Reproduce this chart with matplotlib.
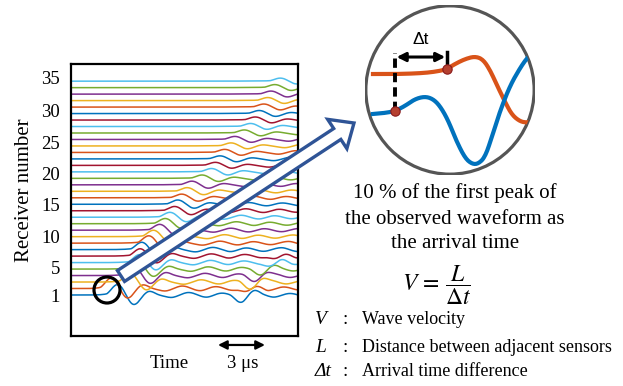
import numpy as np
import matplotlib.pyplot as plt
from matplotlib.patches import Circle, FancyArrow

plt.rcParams['font.family'] = ['Liberation Serif', 'DejaVu Serif']
plt.rcParams['mathtext.fontset'] = 'stix'

# ---- data ----
receivers = np.arange(1, 35)
arrival_us = [2.2, 1.8, 3.0, 3.25, 3.45, 3.6, 3.65, 3.75, 4.2, 4.5,
              4.9, 5.25, 5.55, 5.85, 6.05, 6.3, 6.65, 6.95, 7.6, 8.2,
              8.45, 8.75, 9.05, 9.45, 9.7, 10.3, 10.7, 11.0, 11.25, 11.55,
              11.8, 12.0, 12.25, 12.6]
pulse_amp = [1.7, 1.7, 1.4, 1.4, 1.3, 1.3, 1.2, 1.2, 1.2, 1.05,
             0.95, 0.85, 0.8, 0.7, 0.7, 0.6, 0.6, 0.6, 0.55, 0.55,
             0.5, 0.5, 0.5, 0.5, 0.5, 0.5, 0.5, 0.5, 0.5, 0.5,
             0.5, 0.5, 0.5, 0.5]
coda_amp = [0.5, 0.5, 0.45, 0.45, 0.45, 0.45, 0.45, 0.45, 0.4, 0.4,
            0.4, 0.4, 0.4, 0.4, 0.35, 0.35, 0.35, 0.35, 0.35, 0.35,
            0.35, 0.35, 0.35, 0.35, 0.35, 0.35, 0.35, 0.35, 0.35, 0.35,
            0.35, 0.35, 0.35, 0.35]
late_us = [10.3, 10.5, 10.8, 11.1, 11.5, 12.0, 12.4]
late_amp = [0.9, 0.7, 0.9, 0.7, 0.7, 0.6, 0.6]

step_us = 0.25
pulse_shape = [0, 0.3, 0.75, 1.0, 0.8, 0.2, -0.5, -0.9, -0.8, -0.35, 0.1, 0.35, 0.3, 0.1]
coda_shape = [-0.1, -0.4, -0.7, -0.8, -0.5, 0.0, 0.5, 0.8, 0.7, 0.3,
              -0.2, -0.6, -0.7, -0.4, 0.1, 0.5, 0.6, 0.4, 0.0, -0.4,
              -0.6, -0.5, -0.1, 0.3, 0.6, 0.7, 0.4, -0.1, -0.5, -0.7,
              -0.5, -0.1, 0.3, 0.5, 0.4, 0.1, -0.3, -0.5, -0.4, 0.0,
              0.4, 0.6, 0.5, 0.1, -0.3, -0.5, -0.4, -0.1, 0.2, 0.4]
late_shape = [0, -0.4, -0.9, -1.0, -0.5, 0.2, 0.5, 0.3, 0]

ytick_pos = [0.85, 5.2, 9.95, 14.9, 19.8, 24.6, 29.55, 34.5]
ytick_labels = ['1', '5', '10', '15', '20', '25', '30', '35']

# zoomed view: two neighbouring receivers
inset_t_orange = [0.47, 2.06, 3.53, 4.41, 4.82, 5.29, 5.88, 6.47, 6.94, 7.35,
                  7.76, 8.24, 8.65, 9.12, 9.53, 9.88]
inset_orange = [0.94, 0.94, 1.0, 1.12, 1.24, 1.53, 1.82, 1.98, 1.8, 1.18,
                0.29, -0.71, -1.47, -1.85, -1.92, -1.85]
inset_t_blue = [0.47, 1.18, 1.76, 2.35, 2.94, 3.53, 4.0, 4.41, 4.88, 5.35,
                5.88, 6.29, 6.65, 7.06, 7.47, 7.94, 8.53, 9.12, 9.53, 10.0]
inset_blue = [-1.41, -1.35, -1.24, -0.94, -0.53, -0.38, -0.53, -0.94, -1.76, -2.94,
              -4.0, -4.35, -4.35, -3.95, -2.75, -1.25, 0.25, 1.29, 1.88, 2.35]
pick_t = [1.76, 4.82]
pick_v = [-1.24, 1.24]

colors = ['#0072BD', '#D95319', '#EDB120', '#7E2F8E', '#77AC30', '#4DBEEE', '#A2142F']


def chaikin(x, y, n=3):
    # corner cutting so the polylines draw as smooth curves
    pts = np.column_stack([x, y]).astype(float)
    for _ in range(n):
        q = 0.75*pts[:-1] + 0.25*pts[1:]
        r = 0.25*pts[:-1] + 0.75*pts[1:]
        mid = np.empty((2*len(q), 2))
        mid[0::2] = q
        mid[1::2] = r
        pts = np.vstack([pts[:1], mid, pts[-1:]])
    return pts[:, 0], pts[:, 1]


fig = plt.figure(figsize=(6.23, 3.86), dpi=100)

# ---- main waveform panel ----
ax = fig.add_axes([71/623, 50/386, 227/623, 272/386])
for i, rec in enumerate(receivers):
    vals = np.concatenate([pulse_amp[i]*np.array(pulse_shape),
                           coda_amp[i]*np.array(coda_shape)])
    if i < len(late_us):
        j = int(round((late_us[i] - arrival_us[i]) / step_us))
        vals[j:j+len(late_shape)] += late_amp[i]*np.array(late_shape)
    t = arrival_us[i] + step_us*np.arange(len(vals))
    t = np.concatenate([[0], t])
    vals = np.concatenate([[0], vals])
    ts, vs = chaikin(t, vals)
    ax.plot(ts, rec + vs, color=colors[i % 7], lw=1.1)
ax.set_xlim(0, 14.5)
ax.set_ylim(-5.33, 36.65)
ax.set_xticks([])
ax.set_yticks(ytick_pos, ytick_labels)
ax.tick_params(axis='y', length=0, pad=8, labelsize=13.5)
for s in ax.spines.values():
    s.set_linewidth(1.6)
    s.set_color('black')

# scale bar of 3 us under the panel
ax.annotate('', xy=(9.39, -0.033), xytext=(12.39, -0.033),
            xycoords=('data', 'axes fraction'), textcoords=('data', 'axes fraction'),
            arrowprops=dict(arrowstyle='<|-|>', color='black', lw=1.6, mutation_scale=13,
                            shrinkA=0, shrinkB=0),
            annotation_clip=False)

# ---- overlay in pixel units for annotations ----
ov = fig.add_axes([0, 0, 1, 1], zorder=5)
ov.set_xlim(0, 623)
ov.set_ylim(386, 0)
ov.axis('off')

ov.text(25, 190, 'Receiver number', rotation=90, ha='center', va='center', fontsize=15)
ov.text(169, 363, 'Time', ha='center', va='center', fontsize=13.5)
ov.text(243, 363, '3 μs', ha='center', va='center', fontsize=13.5)

ov.add_patch(Circle((107, 290), 13, fill=False, ec='black', lw=2.3))
ov.add_patch(FancyArrow(121, 276, 233, -153, width=13, head_width=35, head_length=20,
                        length_includes_head=True, fc='white', ec='#2F5496', lw=2.4))

ov.text(455, 193, '10 % of the first peak of', ha='center', va='center', fontsize=15)
ov.text(455, 219, 'the observed waveform as', ha='center', va='center', fontsize=15)
ov.text(455, 244, 'the arrival time', ha='center', va='center', fontsize=15)
ov.text(437, 285, r'$V\,=\,\dfrac{L}{\Delta t}$', ha='center', va='center', fontsize=17)

rows_y = [320, 347, 372]
symbols = ['V', 'L', 'Δt']
meanings = ['Wave velocity', 'Distance between adjacent sensors', 'Arrival time difference']
for y, sym, txt in zip(rows_y, symbols, meanings):
    ov.text(315, y, sym, style='italic', ha='left', va='center', fontsize=14)
    ov.text(342, y, ':', ha='left', va='center', fontsize=14)
    ov.text(362, y, txt, ha='left', va='center', fontsize=13)

# ---- magnified view ----
ins = fig.add_axes([365/623, (386-175)/386, 170/623, 170/386], zorder=6)
ins.set_xlim(0, 10)
ins.set_ylim(-5, 5)
ins.axis('off')
ring = Circle((5, 0), 4.95, fill=False, ec='#555555', lw=2.3)
ins.add_patch(ring)
clip = Circle((5, 0), 4.95, transform=ins.transData)
l1, = ins.plot(*chaikin(inset_t_orange, inset_orange), color='#D95319', lw=3)
l2, = ins.plot(*chaikin(inset_t_blue, inset_blue), color='#0072BD', lw=3)
l1.set_clip_path(clip)
l2.set_clip_path(clip)
ins.plot([pick_t[0], pick_t[0]], [pick_v[0], 2.18], color='black', lw=2.8,
         dashes=(2.4, 1.3))
ins.plot([pick_t[1], pick_t[1]], [1.59, 2.24], color='black', lw=2.5)
ins.annotate('', xy=(pick_t[0] + 0.1, 1.94), xytext=(pick_t[1] - 0.1, 1.94),
             arrowprops=dict(arrowstyle='<|-|>', color='black', lw=2.2, mutation_scale=13,
                             shrinkA=0, shrinkB=0))
ins.scatter(pick_t, pick_v, s=45, color='#B5402F', edgecolor='#8B1A1A', lw=0.8, zorder=5)
ins.text(3.3, 2.95, 'Δt', family=['Liberation Sans', 'DejaVu Sans'], ha='center',
         va='center', fontsize=12.5)

fig.savefig('out.png', dpi=100)
